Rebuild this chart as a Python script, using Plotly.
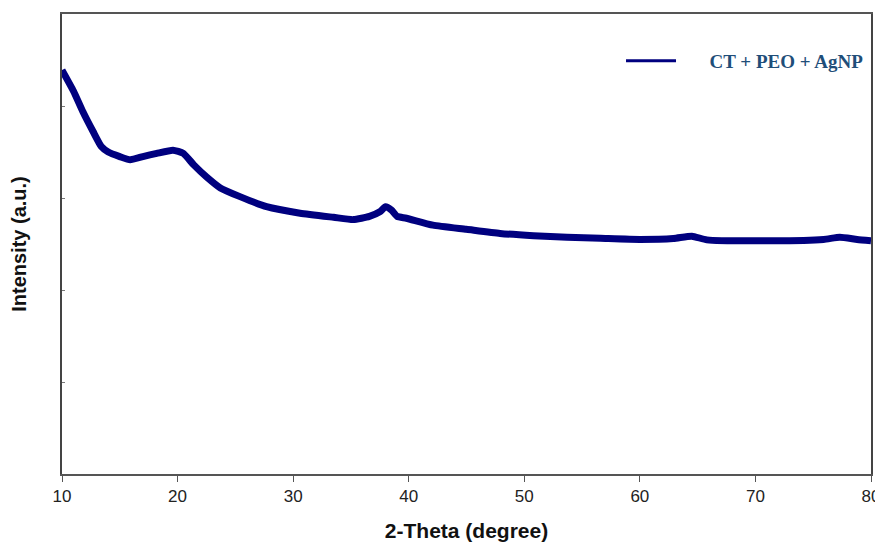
import plotly.graph_objects as go

two_theta = [10.0, 11.0, 11.8, 12.7, 13.4, 14.0, 15.0, 15.9, 17.0, 18.2, 19.6, 20.5, 21.4, 22.5, 23.7, 25.4,
             27.7, 30.6, 33.5, 35.2, 36.6, 37.5, 38.0, 38.5, 39.0, 39.8, 42.1, 45.0, 47.9, 50.8, 53.7, 56.6,
             60.0, 62.9, 64.5, 65.8, 71.5, 75.9, 77.3, 78.8, 80.0]
intensity = [4390, 4160, 3940, 3720, 3560, 3500, 3450, 3415, 3450, 3485, 3520, 3485, 3360, 3230, 3110, 3015,
             2905, 2835, 2790, 2765, 2800, 2850, 2905, 2870, 2800, 2780, 2705, 2660, 2615, 2590, 2573, 2562,
             2550, 2560, 2585, 2545, 2535, 2550, 2573, 2550, 2536]

series_name = "CT + PEO + AgNP"
x_ticks = [10, 20, 30, 40, 50, 60, 70, 80]

fig = go.Figure()
fig.add_trace(go.Scatter(x=two_theta, y=intensity, mode="lines", name=series_name, showlegend=False,
                         line=dict(color="#00007F", width=7, shape="spline", smoothing=0.5)))
# legend entry with a thinner sample line, as in the reference
fig.add_trace(go.Scatter(x=[None], y=[None], mode="lines",
                         name="\u00a0" * 6 + "<b>" + series_name + "</b>",
                         line=dict(color="#00007F", width=3)))

fig.update_layout(
    width=875, height=534,
    margin=dict(l=54, r=12, t=6, b=68),
    paper_bgcolor="white", plot_bgcolor="white",
    showlegend=True,
    legend=dict(x=0.691, y=0.898, xanchor="left", yanchor="middle", bgcolor="rgba(0,0,0,0)",
                itemwidth=50,
                font=dict(family="Liberation Serif, Times New Roman, serif", size=19, color="#1F4E79")),
    xaxis=dict(range=[10, 80], tickvals=x_ticks, ticks="outside", ticklen=6, tickcolor="#555",
               automargin=False,
               tickfont=dict(family="Liberation Sans, Arial, sans-serif", size=17, color="#222"),
               showline=True, linecolor="#555", linewidth=2, mirror=True, showgrid=False, zeroline=False,
               title=dict(text="<b>2-Theta (degree)</b>", standoff=19,
                          font=dict(family="Liberation Sans, Arial, sans-serif", size=21, color="#111"))),
    yaxis=dict(range=[0, 5000], dtick=1000, ticks="inside", ticklen=3, tickcolor="#777", showticklabels=False,
               automargin=False,
               showline=True, linecolor="#444", linewidth=1.5, mirror=True, showgrid=False, zeroline=False,
               title=dict(text="<b>Intensity (a.u.)</b>", standoff=28,
                          font=dict(family="Liberation Sans, Arial, sans-serif", size=20, color="#111"))),
)

fig.write_html("out.html")
